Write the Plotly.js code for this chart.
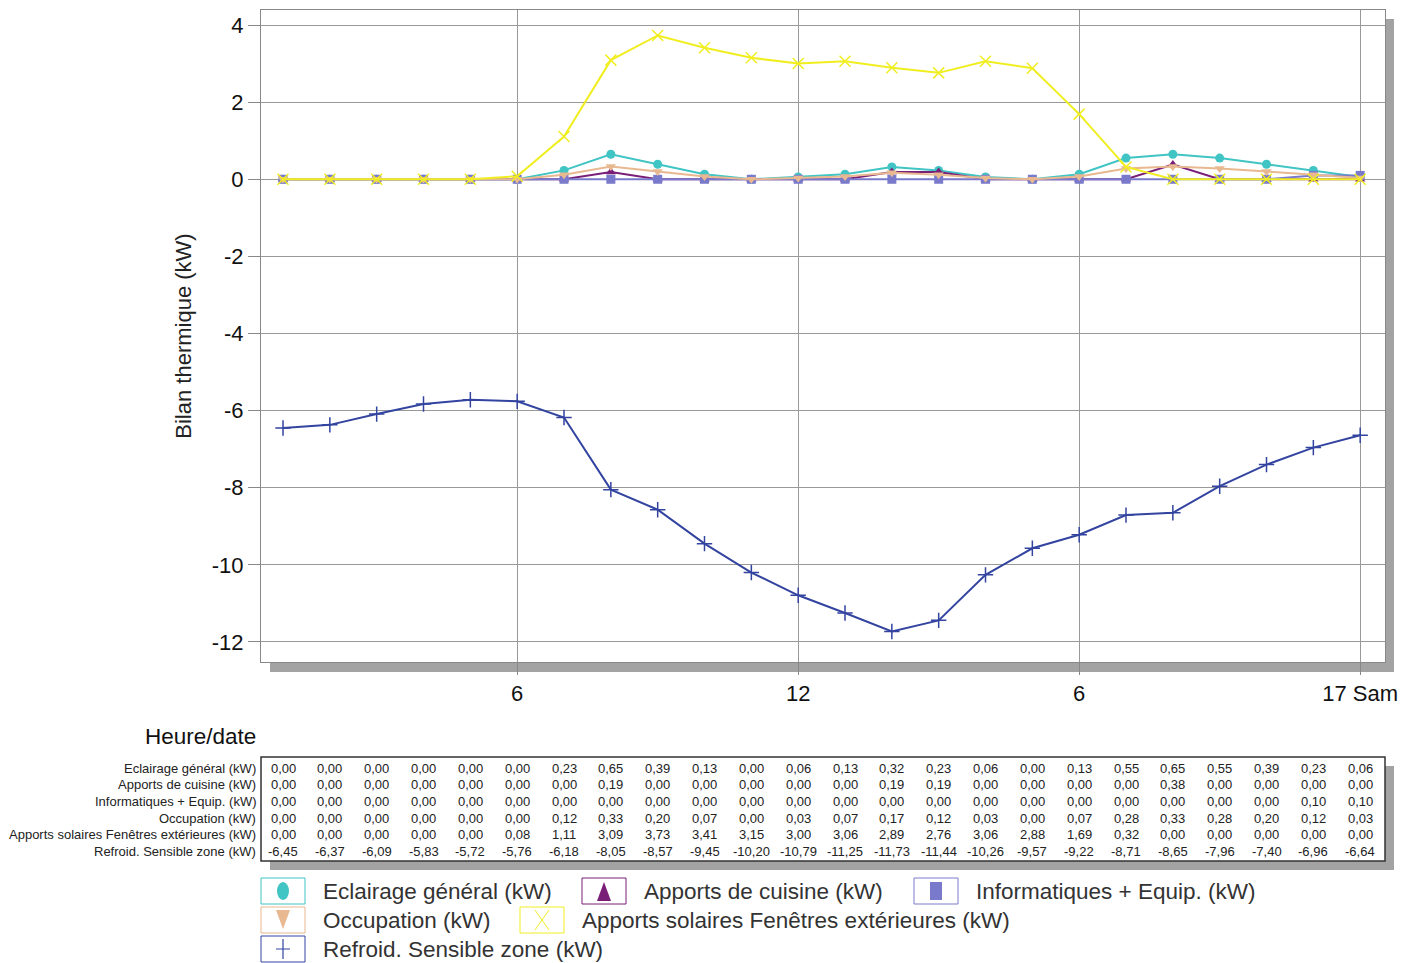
<!DOCTYPE html>
<html><head><meta charset="utf-8">
<script src="https://cdn.plot.ly/plotly-3.0.1.min.js"></script>
<style>html,body{margin:0;padding:0;background:#fff}</style>
</head><body><div id="chart" style="width:1414px;height:963px"></div>
<script>
// ---- data ----
const hours = [1,2,3,4,5,6,7,8,9,10,11,12,13,14,15,16,17,18,19,20,21,22,23,24];
const xTickVals = [6,12,18,24];
const xTickText = ['6','12','6','17 Sam'];
const yTickVals = [-12,-10,-8,-6,-4,-2,0,2,4];
const yTickText = ['-12','-10','-8','-6','-4','-2','0','2','4'];
const seriesNames = ['Eclairage général (kW)','Apports de cuisine (kW)','Informatiques + Equip. (kW)','Occupation (kW)','Apports solaires Fenêtres extérieures (kW)','Refroid. Sensible zone (kW)'];
const eclairage = [0,0,0,0,0,0,0.23,0.65,0.39,0.13,0,0.06,0.13,0.32,0.23,0.06,0,0.13,0.55,0.65,0.55,0.39,0.23,0.06];
const cuisine = [0,0,0,0,0,0,0,0.19,0,0,0,0,0,0.19,0.19,0,0,0,0,0.38,0,0,0,0];
const informatique = [0,0,0,0,0,0,0,0,0,0,0,0,0,0,0,0,0,0,0,0,0,0,0.10,0.10];
const occupation = [0,0,0,0,0,0,0.12,0.33,0.20,0.07,0,0.03,0.07,0.17,0.12,0.03,0,0.07,0.28,0.33,0.28,0.20,0.12,0.03];
const solaires = [0,0,0,0,0,0.08,1.11,3.09,3.73,3.41,3.15,3.00,3.06,2.89,2.76,3.06,2.88,1.69,0.32,0,0,0,0,0];
const refroid = [-6.45,-6.37,-6.09,-5.83,-5.72,-5.76,-6.18,-8.05,-8.57,-9.45,-10.20,-10.79,-11.25,-11.73,-11.44,-10.26,-9.57,-9.22,-8.71,-8.65,-7.96,-7.40,-6.96,-6.64];

// ---- styles ----
const seriesData = [eclairage,cuisine,informatique,occupation,solaires,refroid];
const colors = ['#40c4c4','#7a1f78','#7a7acc','#e8b890','#f0ee20','#3344a0'];
const symbols = ['circle','triangle-up','square','triangle-down','x-thin','cross-thin'];
const FONT = 'Liberation Sans, Arial, sans-serif';

const W=1414,H=963, L=261, R=1385, T=10, B=662;
const px = v => (v-L)/(R-L);
const py = v => (B-v)/(B-T);

const traces = seriesData.map((d,i)=>{
  const thin = symbols[i].indexOf('thin')>=0;
  return {
    x: hours, y: d, type:'scatter', mode:'lines+markers', name: seriesNames[i],
    line:{color:colors[i], width:2},
    marker:{symbol:symbols[i], size: thin?11:9, color:colors[i], line:{color:colors[i], width: thin?1.5:0}},
    showlegend:false, hoverinfo:'skip'
  };
});

const shapes = [];
const annotations = [];
// plot shadow + white plot bg
shapes.push({type:'rect', xref:'paper', yref:'paper', x0:px(270), x1:px(1394), y0:py(672), y1:py(19), fillcolor:'#a3a3a3', line:{width:0}, layer:'below'});
shapes.push({type:'rect', xref:'paper', yref:'paper', x0:0, x1:1, y0:0, y1:1, fillcolor:'#ffffff', line:{width:0}, layer:'below'});
// table shadow + box
shapes.push({type:'rect', xref:'paper', yref:'paper', x0:px(270), x1:px(1394), y0:py(870), y1:py(766), fillcolor:'#a3a3a3', line:{width:0}, layer:'below'});
shapes.push({type:'rect', xref:'paper', yref:'paper', x0:px(261), x1:px(1385), y0:py(861), y1:py(757), fillcolor:'#ffffff', line:{width:1.5, color:'#333'}, layer:'below'});

annotations.push({xref:'paper', yref:'paper', x:px(258), y:py(737), xanchor:'right', yanchor:'middle', text:'Heure/date', showarrow:false, font:{family:FONT, size:22.5, color:'#111'}});

const rowY = [768,785,801,818,834,851];
const fmt = v => v.toFixed(2).replace('.',',');
seriesNames.forEach((n,r)=>{
  annotations.push({xref:'paper', yref:'paper', x:px(258), y:py(rowY[r]), xanchor:'right', yanchor:'middle', text:n, showarrow:false, font:{family:FONT, size:13, color:'#222'}});
  seriesData[r].forEach((v,c)=>{
    annotations.push({xref:'x', yref:'paper', x:hours[c], y:py(rowY[r]), xanchor:'center', yanchor:'middle', text:fmt(v), showarrow:false, font:{family:FONT, size:13, color:'#222'}});
  });
});

// custom legend
const legItems = [
  {i:0, bx:261, cy:891}, {i:1, bx:582, cy:891}, {i:2, bx:914, cy:891},
  {i:3, bx:261, cy:920}, {i:4, bx:520, cy:920},
  {i:5, bx:261, cy:949}
];
legItems.forEach(it=>{
  const c = colors[it.i], cx = it.bx+22, cy = it.cy;
  shapes.push({type:'rect', xref:'paper', yref:'paper', x0:px(it.bx), x1:px(it.bx+44), y0:py(cy+13), y1:py(cy-13), fillcolor:'#fff', line:{color:c, width:1}});
  const P = (a,b)=>px(a)+','+py(b);
  if (it.i===0) shapes.push({type:'circle', xref:'paper', yref:'paper', x0:px(cx-6), x1:px(cx+6), y0:py(cy+9), y1:py(cy-9), fillcolor:c, line:{width:0}});
  if (it.i===1) shapes.push({type:'path', xref:'paper', yref:'paper', path:'M'+P(cx-7,cy+10)+' L'+P(cx+7,cy+10)+' L'+P(cx,cy-9)+' Z', fillcolor:c, line:{width:0}});
  if (it.i===2) shapes.push({type:'rect', xref:'paper', yref:'paper', x0:px(cx-6), x1:px(cx+6), y0:py(cy+9), y1:py(cy-9), fillcolor:c, line:{width:0}});
  if (it.i===3) shapes.push({type:'path', xref:'paper', yref:'paper', path:'M'+P(cx-7,cy-10)+' L'+P(cx+7,cy-10)+' L'+P(cx,cy+9)+' Z', fillcolor:c, line:{width:0}});
  if (it.i===4) shapes.push({type:'path', xref:'paper', yref:'paper', path:'M'+P(cx-7,cy-10)+' L'+P(cx+7,cy+10)+' M'+P(cx+7,cy-10)+' L'+P(cx-7,cy+10), line:{color:c, width:1}});
  if (it.i===5) shapes.push({type:'path', xref:'paper', yref:'paper', path:'M'+P(cx,cy-10)+' L'+P(cx,cy+10)+' M'+P(cx-7,cy)+' L'+P(cx+7,cy), line:{color:c, width:1.2}});
  annotations.push({xref:'paper', yref:'paper', x:px(it.bx+60), y:py(cy), xanchor:'left', yanchor:'middle', text:seriesNames[it.i], showarrow:false, font:{family:FONT, size:22.5, color:'#333'}});
});

const layout = {
  width:W, height:H,
  margin:{l:L, r:W-R, t:T, b:H-B},
  paper_bgcolor:'#fff', plot_bgcolor:'rgba(0,0,0,0)',
  font:{family:FONT, size:20, color:'#111'},
  showlegend:false, hovermode:false,
  xaxis:{range:[0.53,24.53], tickvals:xTickVals, ticktext:xTickText, showgrid:true, gridcolor:'#999', gridwidth:1,
    showline:true, mirror:true, linecolor:'#888', linewidth:1, ticks:'outside', ticklen:12, tickcolor:'#888', zeroline:false,
    tickfont:{size:22, color:'#111'}},
  yaxis:{range:[-12.52,4.39], tickvals:yTickVals, ticktext:yTickText, showgrid:true, gridcolor:'#999', gridwidth:1,
    showline:true, mirror:true, linecolor:'#888', linewidth:1, ticks:'outside', ticklen:12, tickcolor:'#888', zeroline:false,
    tickfont:{size:22, color:'#111'},
    title:{text:'Bilan thermique (kW)', font:{size:22, color:'#222'}, standoff:14}},
  shapes:shapes, annotations:annotations
};
Plotly.newPlot('chart', traces, layout, {staticPlot:true, displayModeBar:false});
</script></body></html>
